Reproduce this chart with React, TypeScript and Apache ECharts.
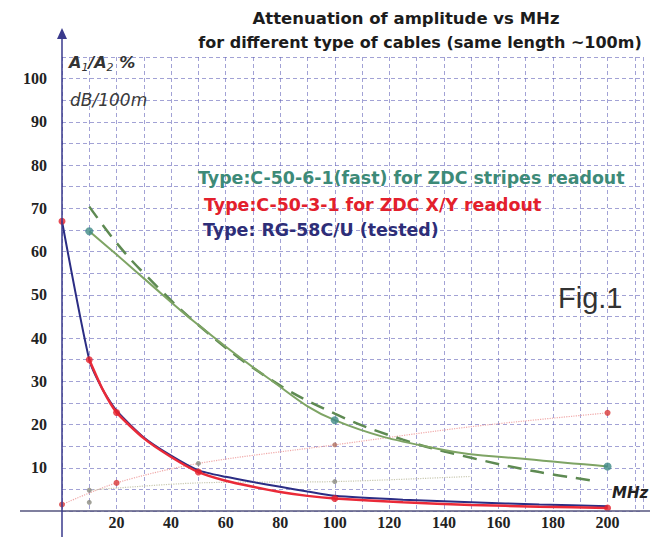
import React, { useEffect, useRef } from "react";
import * as echarts from "echarts";

// Frequency (MHz) / attenuation values
const blueRG58: [number, number][] = [[0, 67], [10, 35], [15, 28], [20, 23.2], [30, 17], [40, 12.8], [50, 9.4], [60, 7.9], [70, 6.7], [80, 5.6], [90, 4.5], [100, 3.5], [125, 2.6], [150, 2], [175, 1.5], [200, 1.1]];
const redC5031: [number, number][] = [[10, 35], [15, 28], [20, 22.8], [30, 16.8], [40, 12.5], [50, 9], [60, 7], [70, 5.6], [80, 4.4], [90, 3.5], [100, 2.9], [125, 2], [150, 1.4], [175, 1], [200, 0.7]];
const redMarkers: [number, number][] = [[0, 67], [10, 35], [20, 22.8], [50, 9], [100, 2.9], [200, 0.7]];
const greenC5061: [number, number][] = [[10, 64.7], [20, 59.3], [30, 53.8], [50, 43], [75, 31], [100, 21], [140, 14.1], [170, 12], [200, 10.3]];
const greenMarkers: [number, number][] = [[10, 64.7], [100, 21], [200, 10.3]];
const greenFit: [number, number][] = [[10, 70.4], [20, 62], [30, 55], [50, 43], [75, 31], [100, 22.5], [125, 16.5], [150, 12.3], [175, 9], [195, 7]];
const pinkDotted: [number, number][] = [[0, 1.5], [20, 6.5], [50, 11], [100, 15.3], [150, 19.5], [200, 22.7]];
const pinkMarkers: [number, number][] = [[0, 1.5], [20, 6.5], [200, 22.7]];
const brownMarkers: [number, number][] = [[100, 15.3]];
const grayDotted: [number, number][] = [[10, 4.8], [50, 6.5], [100, 6.8], [150, 8]];
const grayMarkers: [number, number][] = [[10, 4.8], [10, 2], [50, 11], [100, 6.8]];

const title1 = "Attenuation of amplitude vs MHz";
const title2 = "for different type of cables (same length ~100m)";
const legendGreen = "Type:C-50-6-1(fast) for ZDC stripes readout";
const legendRed = "Type:C-50-3-1 for ZDC X/Y readout";
const legendBlue = "Type: RG-58C/U (tested)";

export default function App() {
  const ref = useRef<HTMLDivElement>(null);
  useEffect(() => {
    if (!ref.current) return;
    const chart = echarts.init(ref.current, null, { renderer: "svg" });
    const gridLine = { show: true, lineStyle: { color: "rgba(100,100,185,0.6)", width: 1, type: [4, 3] as any } };
    chart.setOption({
      animation: false,
      backgroundColor: "#ffffff",
      grid: { left: 62, top: 57, right: 7, bottom: 26 },
      xAxis: {
        type: "value", min: 0, max: 213, interval: 10,
        axisLine: { show: false }, axisTick: { show: false },
        splitLine: gridLine,
        axisLabel: {
          showMaxLabel: false,
          margin: 3,
          color: "#222", fontFamily: "Liberation Serif", fontWeight: "bold", fontSize: 16,
          formatter: (v: number) => (v > 0 && v <= 200 && v % 20 === 0 ? String(v) : ""),
        },
      },
      yAxis: {
        type: "value", min: 0, max: 105, interval: 5,
        axisLine: { show: false }, axisTick: { show: false },
        splitLine: gridLine,
        axisLabel: {
          margin: 15,
          color: "#222", fontFamily: "Liberation Serif", fontWeight: "bold", fontSize: 16,
          lineHeight: 16,
          padding: [0, 0, 8, 0],
          formatter: (v: number) => (v > 0 && v <= 100 && v % 10 === 0 ? String(v) : ""),
        },
      },
      series: [
        { type: "line", data: pinkDotted, smooth: 0.3, symbol: "none", lineStyle: { color: "#f0a8a8", width: 1.2, type: "dotted" }, z: 1 },
        { type: "scatter", data: pinkMarkers, symbolSize: 6, itemStyle: { color: "#d83838" }, z: 2 },
        { type: "scatter", data: brownMarkers, symbolSize: 5, itemStyle: { color: "#b07060" }, z: 2 },
        { type: "line", data: grayDotted, smooth: 0.3, symbol: "none", lineStyle: { color: "#c8c8b0", width: 1.2, type: "dotted" }, z: 1 },
        { type: "scatter", data: grayMarkers, symbolSize: 5, itemStyle: { color: "#8a8a80" }, z: 2 },
        { type: "line", data: greenFit, smooth: 0.4, symbol: "none", lineStyle: { color: "#5e8a52", width: 2.5, type: [14, 9] as any }, z: 3 },
        { type: "line", data: greenC5061, smooth: 0.4, symbol: "none", lineStyle: { color: "#7ea464", width: 2 }, z: 4 },
        { type: "scatter", data: greenMarkers, symbolSize: 8, itemStyle: { color: "#3f8a86" }, z: 6 },
        { type: "line", data: blueRG58, smooth: 0.2, symbol: "none", lineStyle: { color: "#2b2d84", width: 2 }, z: 4 },
        { type: "line", data: redC5031, smooth: 0.2, symbol: "none", lineStyle: { color: "#ea2a38", width: 2.5 }, z: 5 },
        { type: "scatter", data: redMarkers, symbolSize: 7, itemStyle: { color: "#e3202c" }, z: 6 },
      ],
      graphic: [
        { type: "line", shape: { x1: 20, y1: 511, x2: 650, y2: 511 }, style: { stroke: "#55557e", lineWidth: 1.5 }, z: 10 },
        { type: "line", shape: { x1: 62, y1: 34, x2: 62, y2: 537 }, style: { stroke: "#3a3a8c", lineWidth: 1.5 }, z: 10 },
        { type: "polygon", shape: { points: [[62, 28], [57, 39], [67, 39]] }, style: { fill: "#3a3a8c" }, z: 10 },
        { type: "text", x: 406, y: 18, style: { text: title1, fill: "#1c1c1c", font: "bold 16.5px 'DejaVu Sans'", align: "center", verticalAlign: "middle" }, z: 10 },
        { type: "text", x: 420, y: 42, style: { text: title2, fill: "#1c1c1c", font: "bold 16px 'DejaVu Sans'", align: "center", verticalAlign: "middle" }, z: 10 },
        { type: "text", x: 198, y: 178, style: { text: legendGreen, fill: "#3d8a78", font: "bold 17.4px 'DejaVu Sans'", verticalAlign: "middle" }, z: 10 },
        { type: "text", x: 204, y: 205, style: { text: legendRed, fill: "#e3202c", font: "bold 17.4px 'DejaVu Sans'", verticalAlign: "middle" }, z: 10 },
        { type: "text", x: 203, y: 230, style: { text: legendBlue, fill: "#2e2e78", font: "bold 17.4px 'DejaVu Sans'", verticalAlign: "middle" }, z: 10 },
        { type: "text", x: 558, y: 298, style: { text: "Fig.1", fill: "#333", font: "29px 'Liberation Sans'", verticalAlign: "middle" }, z: 10 },
        {
          type: "text", x: 69, y: 62, z: 10,
          style: {
            text: "{a|A}{s|1}{a|/A}{s|2}{a| %}",
            verticalAlign: "middle",
            rich: {
              a: { fontFamily: "DejaVu Sans", fontStyle: "italic", fontWeight: "bold", fontSize: 16, fill: "#333", color: "#333" },
              s: { fontFamily: "DejaVu Sans", fontStyle: "italic", fontSize: 11, fill: "#333", color: "#333", padding: [10, 0, 0, 0] },
            },
          },
        },
        { type: "text", x: 70, y: 100, style: { text: "dB/100m", fill: "#3a3a3a", font: "italic 17px 'DejaVu Sans'", verticalAlign: "middle" }, z: 10 },
        { type: "text", x: 612, y: 493, style: { text: "MHz", fill: "#222", font: "italic bold 15px 'DejaVu Sans'", verticalAlign: "middle" }, z: 10 },
      ],
    });
    return () => chart.dispose();
  }, []);
  return <div ref={ref} style={{ position: "absolute", left: 0, top: 0, width: 650, height: 537 }} />;
}
